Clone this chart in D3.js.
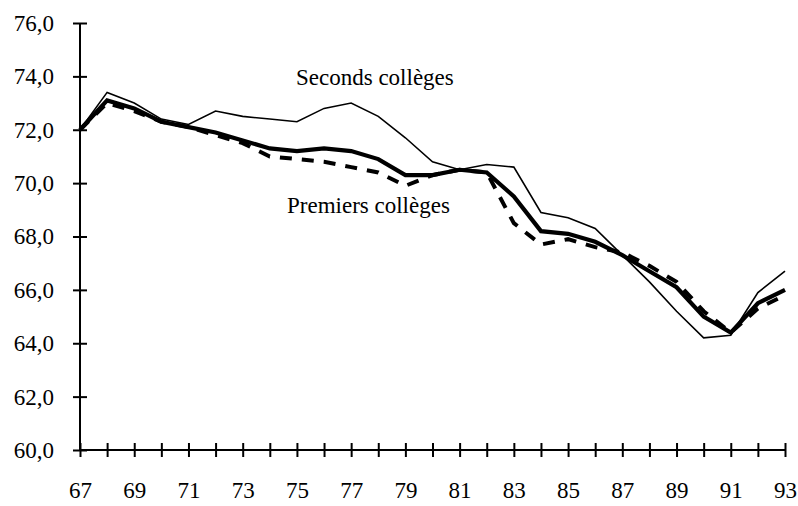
<!DOCTYPE html>
<html lang="fr">
  <head>
    <meta charset="UTF-8">
    <title>Seconds et premiers collèges</title>
    <script src="https://d3js.org/d3.v7.min.js"></script>
    <style>
      body { margin: 0; background: #fff; }
      svg text { font-family: "Liberation Serif", "Times New Roman", Times, "DejaVu Serif", serif; fill: #000; }
    </style>
  </head>
  <body>

<script>
  const years = d3.range(67, 94);

  const seconds = [72.0, 73.4, 73.0, 72.4, 72.2, 72.7, 72.5, 72.4, 72.3, 72.8,
                   73.0, 72.5, 71.7, 70.8, 70.5, 70.7, 70.6, 68.9, 68.7, 68.3,
                   67.3, 66.3, 65.2, 64.2, 64.3, 65.9, 66.7];

  const ensemble = [72.0, 73.1, 72.8, 72.3, 72.1, 71.9, 71.6, 71.3, 71.2, 71.3,
                    71.2, 70.9, 70.3, 70.3, 70.5, 70.4, 69.5, 68.2, 68.1, 67.8,
                    67.3, 66.7, 66.1, 65.0, 64.4, 65.5, 66.0];

  const premiers = [72.0, 73.0, 72.7, 72.3, 72.1, 71.8, 71.5, 71.0, 70.9, 70.8,
                    70.6, 70.4, 69.9, 70.3, 70.5, 70.4, 68.5, 67.7, 67.9, 67.6,
                    67.4, 66.9, 66.3, 65.2, 64.4, 65.3, 65.8];

  const yTicks = [60, 62, 64, 66, 68, 70, 72, 74, 76];

  const w = 798;
  const h = 506;
  const mLeft = 80, mRight = 13, mTop = 23, mBottom = 56;
  const serif = '"Liberation Serif", "Times New Roman", Times, "DejaVu Serif", serif';

  const xScale = d3.scaleLinear()
                   .domain([67, 93])
                   .range([mLeft, w - mRight]);

  const yScale = d3.scaleLinear()
                   .domain([60, 76])
                   .range([h - mBottom, mTop]);

  const svg = d3.select("body")
                .append("svg")
                .attr("width", w)
                .attr("height", h)
                .attr("font-family", serif);

  const fmt = d => d3.format(".1f")(d).replace(".", ",");

  // axe Y
  const yAxis = d3.axisLeft(yScale)
                  .tickValues(yTicks)
                  .tickFormat(fmt)
                  .tickSize(7);
  const gy = svg.append("g")
                .attr("transform", `translate(${mLeft},0)`)
                .call(yAxis);
  gy.attr("font-family", serif).attr("font-size", 23);
  gy.select(".domain").remove();
  gy.append("line")
    .attr("y1", yScale(76)).attr("y2", yScale(60))
    .attr("stroke", "#000").attr("stroke-width", 2);
  gy.selectAll(".tick line").attr("x1", -7).attr("x2", 7)
    .attr("stroke", "#000").attr("stroke-width", 2);
  gy.selectAll(".tick text")
    .attr("x", -26)
    .attr("dy", "0.32em");

  // axe X
  const xAxis = d3.axisBottom(xScale)
                  .tickValues(years)
                  .tickFormat(d => d % 2 === 1 ? String(d) : "")
                  .tickSize(7);
  const gx = svg.append("g")
                .attr("transform", `translate(0,${h - mBottom})`)
                .call(xAxis);
  gx.attr("font-family", serif).attr("font-size", 23);
  gx.select(".domain").remove();
  gx.append("line")
    .attr("x1", xScale(67)).attr("x2", xScale(93))
    .attr("stroke", "#000").attr("stroke-width", 2);
  gx.selectAll(".tick line").attr("y1", -7).attr("y2", 7)
    .attr("stroke", "#000").attr("stroke-width", 2);
  gx.selectAll(".tick text")
    .attr("y", 48)
    .attr("dy", 0);

  const line = d3.line()
                 .x((d, i) => xScale(years[i]))
                 .y(d => yScale(d));

  svg.append("path")
     .datum(premiers)
     .attr("d", line)
     .attr("fill", "none")
     .attr("stroke", "#000")
     .attr("stroke-width", 4)
     .attr("stroke-dasharray", "12,10");

  svg.append("path")
     .datum(seconds)
     .attr("d", line)
     .attr("fill", "none")
     .attr("stroke", "#000")
     .attr("stroke-width", 1.6);

  svg.append("path")
     .datum(ensemble)
     .attr("d", line)
     .attr("fill", "none")
     .attr("stroke", "#000")
     .attr("stroke-width", 4.2);

  svg.append("text")
     .attr("x", 296).attr("y", 85)
     .attr("font-size", 23)
     .text("Seconds collèges");

  svg.append("text")
     .attr("x", 287).attr("y", 213)
     .attr("font-size", 23)
     .text("Premiers collèges");
</script>

  </body>
</html>
